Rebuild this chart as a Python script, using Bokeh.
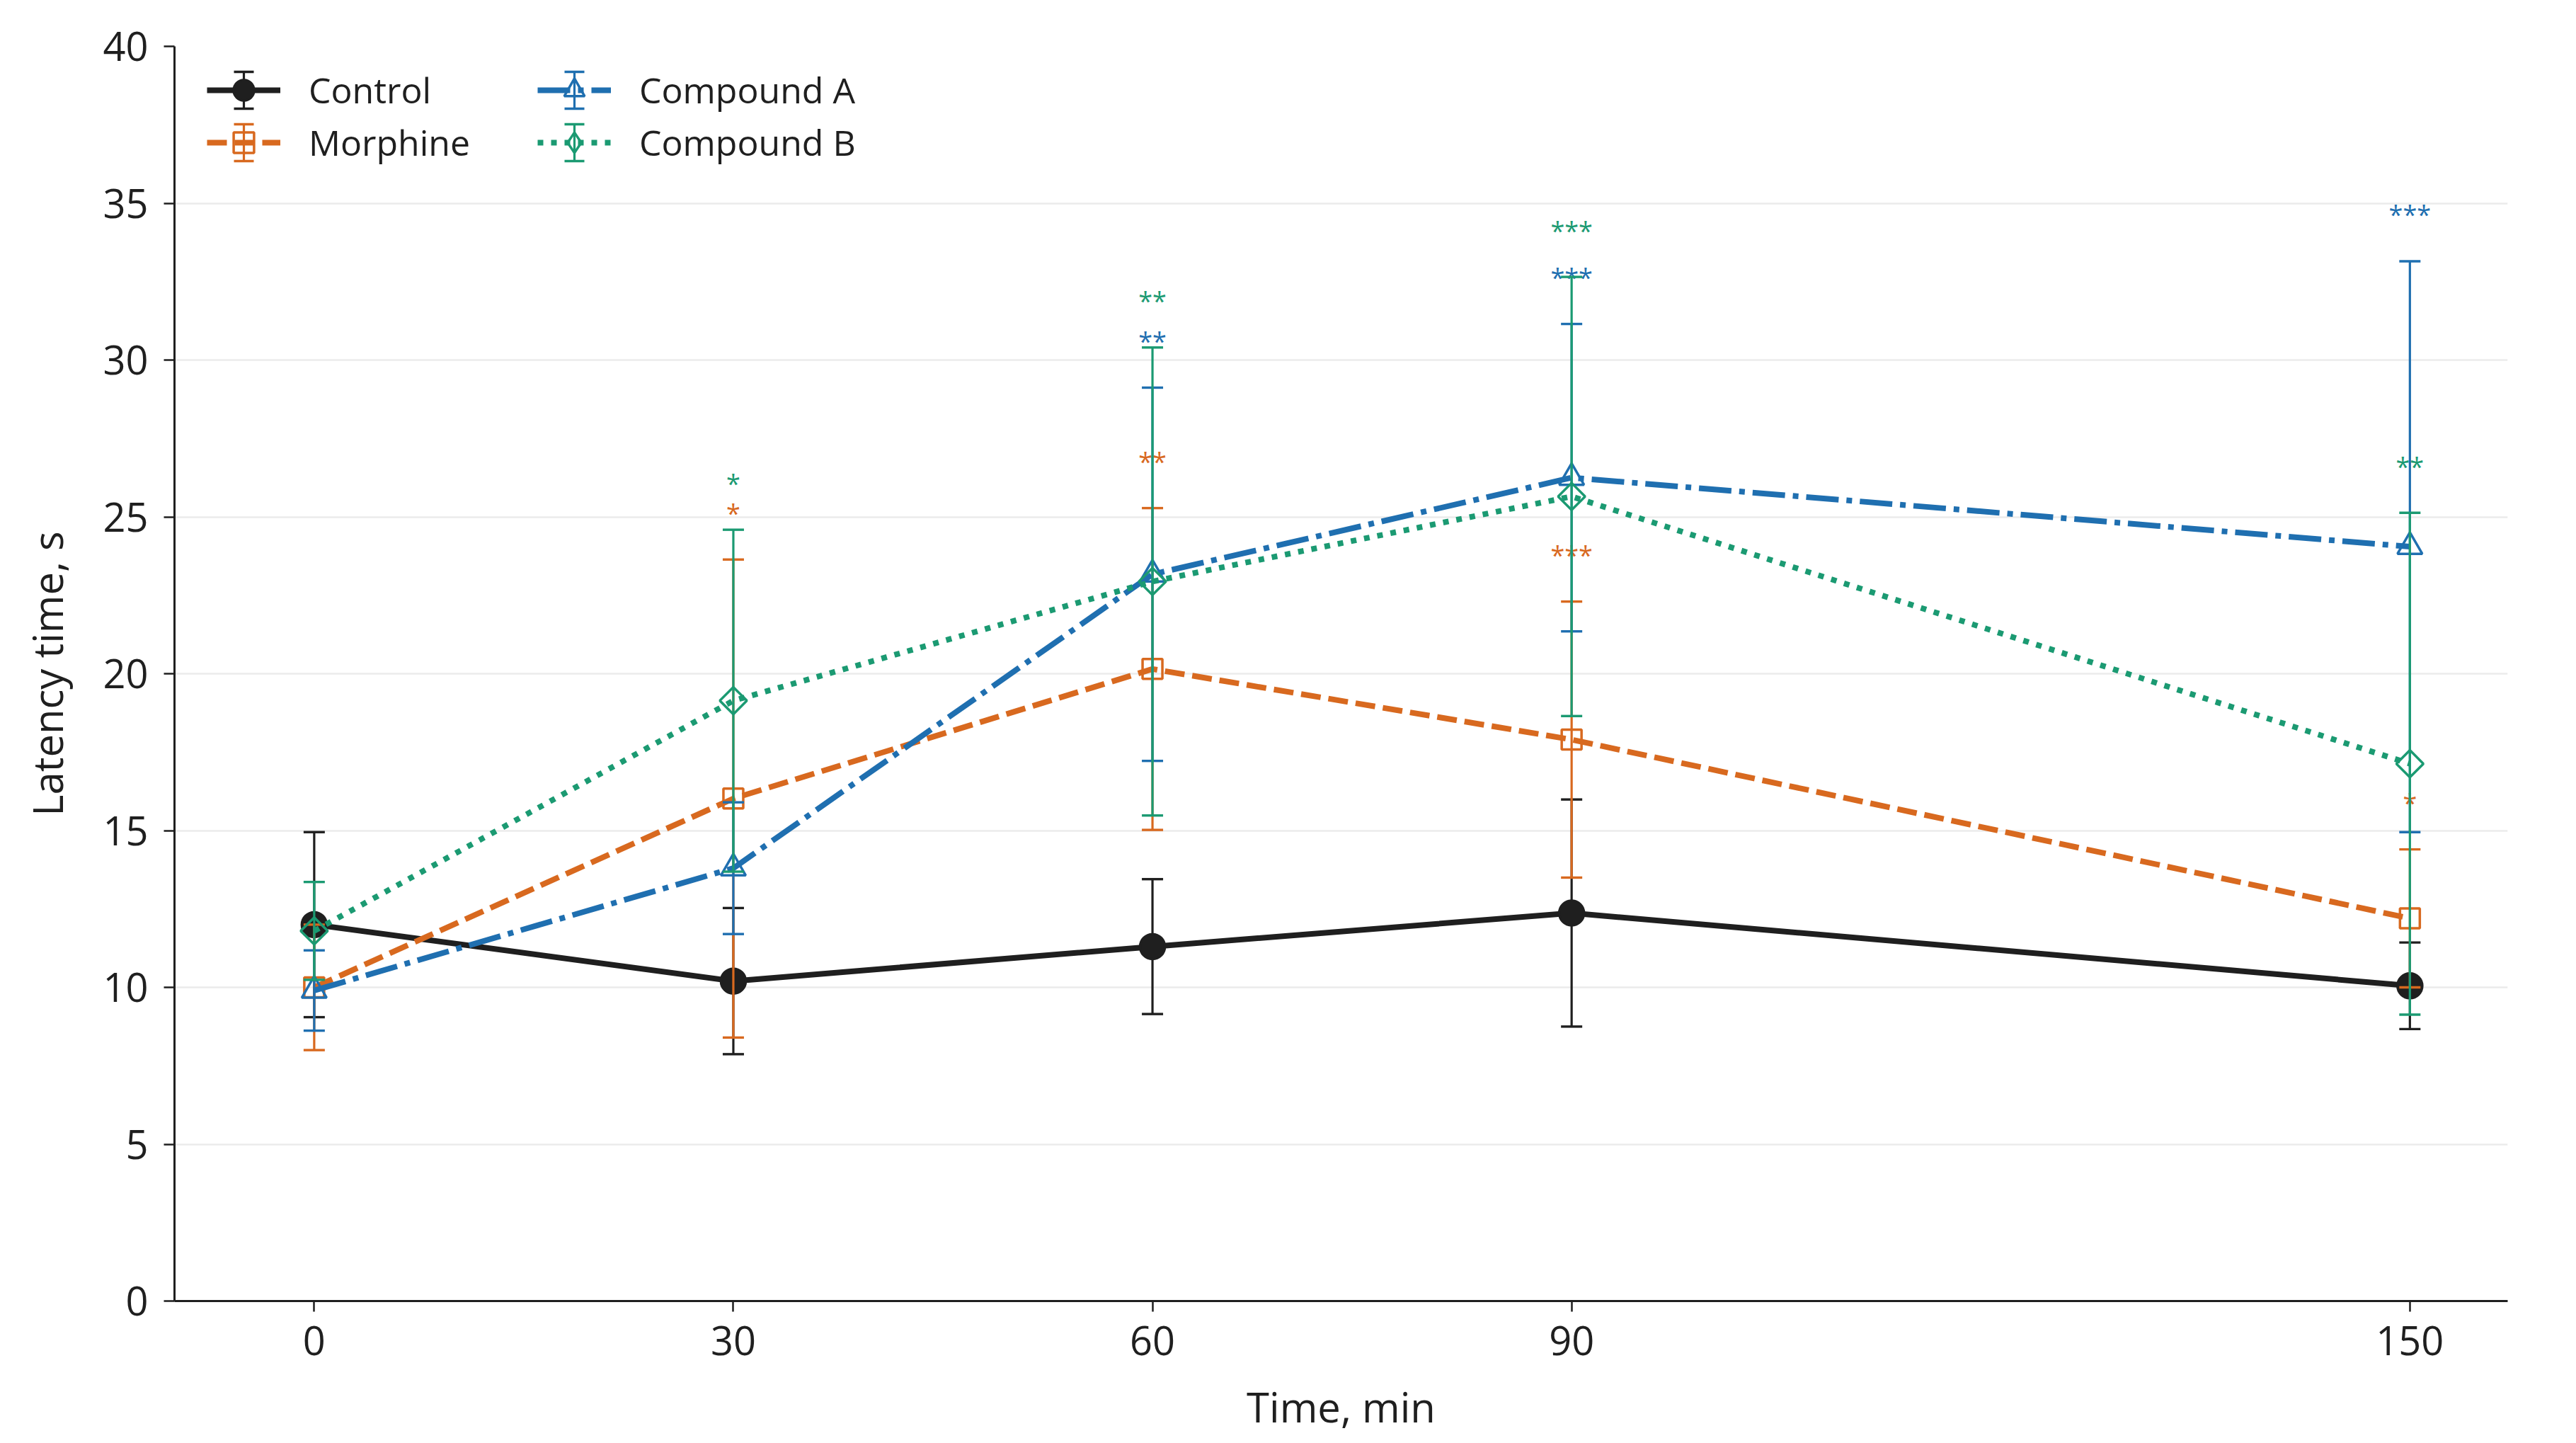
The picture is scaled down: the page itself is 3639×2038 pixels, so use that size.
import numpy as np
from bokeh.plotting import figure
from bokeh.models import (ColumnDataSource, Legend, LegendItem, FixedTicker,
                          Range1d, Whisker, TeeHead)
from bokeh.embed import file_html
from bokeh.resources import INLINE
from bokeh.core.properties import value

# ---------------- data ----------------
time_min = [0, 30, 60, 90, 150]
series_names = ["Control", "Morphine", "Compound A", "Compound B"]

control_mean = [12.0, 10.2, 11.3, 12.37, 10.05]
control_sd = [2.95, 2.33, 2.15, 3.62, 1.38]
control_sig = ["", "", "", "", ""]

morphine_mean = [10.0, 16.02, 20.15, 17.9, 12.2]
morphine_sd = [2.0, 7.62, 5.13, 4.4, 2.2]
morphine_sig = ["", "*", "**", "***", "*"]

compA_mean = [9.9, 13.8, 23.17, 26.25, 24.05]
compA_sd = [1.28, 2.1, 5.95, 4.9, 9.1]
compA_sig = ["", "", "**", "***", "***"]

compB_mean = [11.8, 19.14, 22.94, 25.65, 17.13]
compB_sd = [1.56, 5.45, 7.46, 7.0, 8.0]
compB_sig = ["", "*", "**", "***", "**"]

x_ticks = [0, 30, 60, 90, 150]
y_ticks = [0, 5, 10, 15, 20, 25, 30, 35, 40]

x_label = "Time, min"
y_label = "Latency time, s"

# ---------------- styles ----------------
FONT = "Open Sans"
TXT = "#1f1f1f"
colors = ["#1f1f1f", "#d8691f", "#1f6fb0", "#1b9a72"]
dashes = ["solid", "28 11", "46 11 8 11", "8 11"]
markers = ["circle", "square", "triangle", "square"]
legend_markers = ["circle", "square", "triangle", "diamond"]
mangles = [0.0, 0.0, 0.0, np.pi / 4]
msizes = [35, 28, 35, 27]
mfill = [1.0, 0.0, 0.0, 0.0]

means = [control_mean, morphine_mean, compA_mean, compB_mean]
sds = [control_sd, morphine_sd, compA_sd, compB_sd]
sigs = [control_sig, morphine_sig, compA_sig, compB_sig]

W, H = 3620, 2028
p = figure(width=W, height=H, output_backend="svg", toolbar_location=None,
           x_range=Range1d(-10, 157), y_range=Range1d(0, 40),
           min_border_left=246, min_border_right=78,
           min_border_top=65, min_border_bottom=188)
p.outline_line_color = None
p.background_fill_color = "white"
p.border_fill_color = "white"

# grid
p.xgrid.grid_line_color = None
p.ygrid.ticker = FixedTicker(ticks=y_ticks)
p.ygrid.grid_line_color = "#ebebeb"
p.ygrid.grid_line_width = 2.5

# axes
for ax in (p.xaxis[0], p.yaxis[0]):
    ax.axis_line_color = TXT
    ax.axis_line_width = 3
    ax.major_tick_line_color = TXT
    ax.major_tick_line_width = 2.5
    ax.major_tick_out = 15
    ax.major_tick_in = 0
    ax.minor_tick_line_color = None
    ax.major_label_text_font = FONT
    ax.major_label_text_font_size = "56px"
    ax.major_label_text_color = TXT
    ax.axis_label_text_font = FONT
    ax.axis_label_text_font_size = "58px"
    ax.axis_label_text_font_style = "normal"
    ax.axis_label_text_color = TXT

p.xaxis.ticker = FixedTicker(ticks=x_ticks)
p.yaxis.ticker = FixedTicker(ticks=y_ticks)
p.xaxis.axis_label = x_label
p.yaxis.axis_label = y_label
p.xaxis.major_label_standoff = 20
p.xaxis.axis_label_standoff = 30
p.yaxis.major_label_standoff = 22
p.yaxis.axis_label_standoff = 36

legend_items = []
for i, name in enumerate(series_names):
    m = np.array(means[i], dtype=float)
    s = np.array(sds[i], dtype=float)
    src = ColumnDataSource(dict(x=time_min, y=m, lo=m - s, hi=m + s,
                                sig=sigs[i]))
    c = colors[i]
    # error bars
    p.segment(x0="x", y0="lo", x1="x", y1="hi", source=src,
              line_color=c, line_width=3.2)
    p.scatter(x="x", y="lo", source=src, marker="dash", size=30,
              line_color=c, line_width=3.4)
    p.scatter(x="x", y="hi", source=src, marker="dash", size=30,
              line_color=c, line_width=3.4)
    # main line
    lr = p.line(x="x", y="y", source=src, line_color=c, line_width=8,
                line_dash=dashes[i])
    # markers
    mr = p.scatter(x="x", y="y", source=src, marker=markers[i],
                   size=msizes[i], angle=mangles[i], line_color=c,
                   line_width=3.5, fill_color=c, fill_alpha=mfill[i])
    if legend_markers[i] != markers[i]:
        # legend-only symbol (legend glyphs are drawn unrotated); its single
        # point is NaN so it is never drawn inside the plot
        lsrc = ColumnDataSource(dict(x=np.array([np.nan]), y=np.array([np.nan])))
        mr = p.scatter(x="x", y="y", source=lsrc, marker=legend_markers[i],
                       size=msizes[i], line_color=c, line_width=3.5,
                       fill_color=c, fill_alpha=mfill[i])
    # significance stars
    p.text(x="x", y="hi", text="sig", source=src, text_color=c,
           text_font=value(FONT), text_font_size="36px",
           text_align="center", text_baseline="alphabetic", y_offset=-66)
    legend_items.append(LegendItem(label=name, renderers=[lr, mr]))

leg_common = dict(glyph_width=104, glyph_height=72, spacing=2, padding=0,
                  margin=0, label_standoff=40, label_text_font=FONT,
                  label_text_font_size="50px", label_text_color=TXT,
                  label_height=72, border_line_alpha=0,
                  background_fill_alpha=0)
leg1 = Legend(items=legend_items[:2], location=(46, 1600), **leg_common)
leg2 = Legend(items=legend_items[2:], location=(513, 1600), **leg_common)
p.add_layout(leg1)
p.add_layout(leg2)

# error-bar symbols of the legend entries (screen units inside the frame)
leg_bar_x = [98, 98, 565, 565]
leg_bar_y = [1710, 1636, 1710, 1636]
for i in range(4):
    wsrc = ColumnDataSource(dict(base=[leg_bar_x[i]], lower=[leg_bar_y[i] - 26],
                                 upper=[leg_bar_y[i] + 26]))
    w = Whisker(source=wsrc, base="base", lower="lower", upper="upper",
                base_units="screen", lower_units="screen", upper_units="screen",
                dimension="height", line_color=colors[i], line_width=3.2,
                upper_head=TeeHead(size=28, line_color=colors[i], line_width=3.4),
                lower_head=TeeHead(size=28, line_color=colors[i], line_width=3.4))
    p.add_layout(w)

open("out.html", "w").write(file_html(p, INLINE))
